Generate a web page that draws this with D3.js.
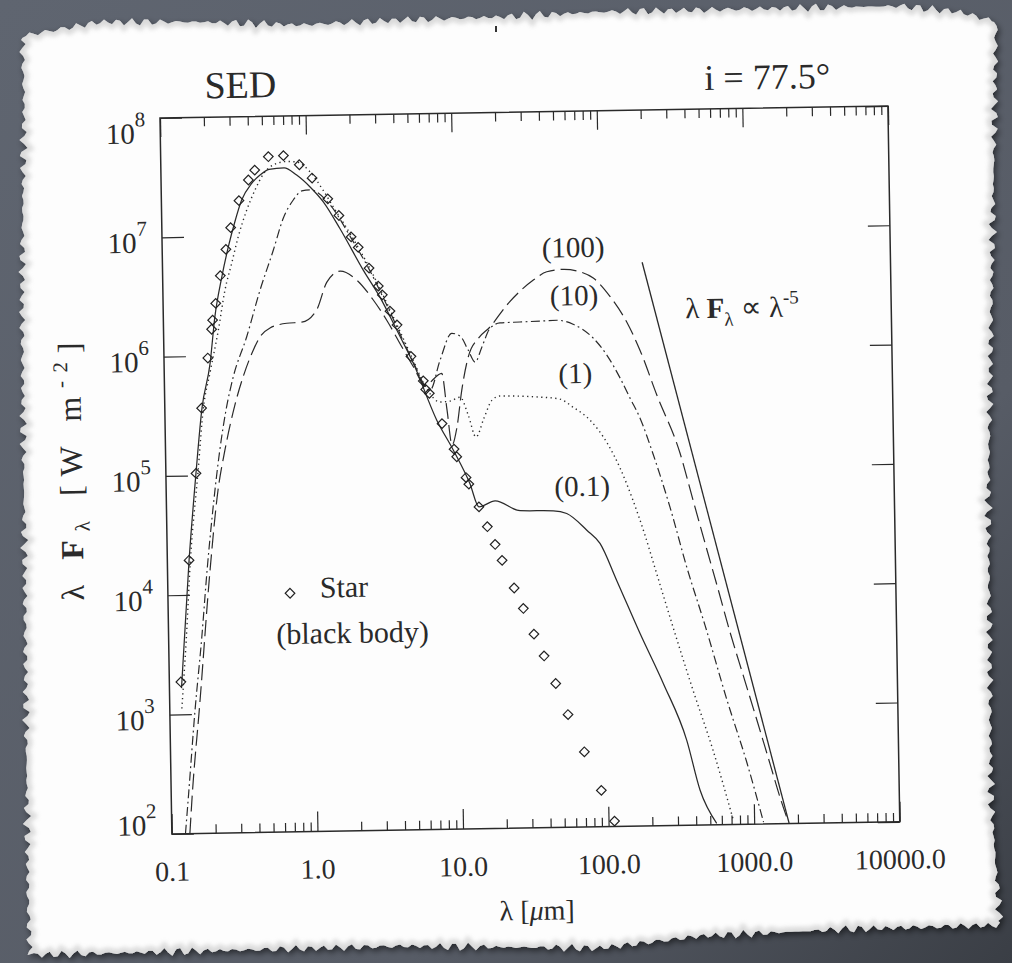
<!DOCTYPE html>
<html><head><meta charset="utf-8">
<script src="https://cdn.jsdelivr.net/npm/d3@7"></script>
<style>body{margin:0;background:#5a5f69;} svg{display:block}</style>
</head><body>
<svg id="chart" width="1012" height="963"></svg>
<script>
// ---------------- data ----------------
const starLam  = [0.120,0.141,0.161,0.179,0.200,0.214,0.218,0.230,0.249,0.274,0.297,0.341,0.398,0.441,0.549,0.697,0.894,1.09,1.39,1.65,1.99,2.22,2.62,3.02,3.21,3.61,4.02,4.97,6.0,6.22,6.58,7.98,9.59,9.98,11.5,12.0,14.0,15.9,17.9,19.9,23.9,27.5,32.3,37.7,45.0,54.2,69.5,90.0,110];
const starFlux = [1.87e3,1.95e4,1.04e5,3.66e5,9.6e5,1.67e6,1.99e6,2.75e6,4.68e6,7.77e6,1.18e7,1.98e7,2.94e7,3.55e7,4.58e7,4.65e7,3.88e7,2.99e7,1.99e7,1.44e7,9.5e6,7.74e6,5.17e6,3.64e6,3.07e6,2.24e6,1.71e6,9.27e5,5.77e5,4.89e5,4.52e5,2.51e5,1.53e5,1.32e5,8.81e4,7.75e4,4.98e4,3.39e4,2.40e4,1.76e4,1.03e4,6.92e3,4.2e3,2.75e3,1.61e3,881,427,202,111];

// tau = 0.1 (solid)
const tau01Lam  = [0.121,0.141,0.161,0.180,0.207,0.226,0.255,0.285,0.318,0.356,0.419,0.479,0.553,0.702,0.855,1.05,1.29,1.67,2.39,3.09,4.0,5.15,7.35,9.48,12.2,14.0,18.1,26.8,45.4,56.0,76.6,94.0,121,173,247,352,429,553];
const tau01Flux = [1.66e3,1.95e4,1.05e5,3.66e5,8.65e5,2.12e6,4.58e6,8.17e6,1.32e7,2.0e7,2.75e7,3.22e7,3.59e7,3.68e7,3.18e7,2.53e7,1.89e7,1.12e7,4.98e6,2.94e6,1.55e6,8.11e5,2.69e5,1.5e5,7.85e4,4.98e4,5.56e4,4.57e4,4.51e4,4.26e4,3.07e4,2.37e4,1.16e4,4.11e3,1.55e3,516,196,103];

// tau = 1 (dotted)
const tau1Lam  = [0.121,0.132,0.144,0.166,0.184,0.206,0.238,0.267,0.299,0.334,0.385,0.441,0.505,0.609,0.733,0.863,1.06,1.29,1.51,1.99,2.62,3.61,4.97,6.45,7.78,9.12,10.7,12.1,13.6,15.5,17.7,20.1,27.6,37.8,51.9,63.6,83.0,108,132,160,192,223,292,394,532,720];
const tau1Flux = [1.12e3,4.18e3,1.95e4,1.05e5,3.66e5,7.18e5,1.64e6,3.54e6,5.92e6,9.87e6,1.65e7,2.42e7,3.28e7,3.96e7,4.15e7,4.09e7,3.36e7,2.37e7,1.71e7,9.8e6,5.3e6,2.3e6,9.5e5,4.73e5,3.81e5,3.87e5,4.16e5,2.94e5,1.92e5,2.75e5,3.89e5,4.2e5,4.16e5,4.06e5,3.88e5,3.31e5,2.56e5,1.64e5,1.0e5,5.4e4,2.73e4,1.44e4,4.59e3,1.35e3,422,109];

// tau = 10 (dash-dot)
const tau10Lam  = [0.124,0.131,0.149,0.169,0.187,0.208,0.236,0.263,0.296,0.372,0.465,0.580,0.684,0.805,0.923,1.05,1.44,1.99,2.62,3.61,4.97,6.66,7.87,9.53,10.9,12.3,13.7,15.3,17.5,20.5,28.1,38.6,50.5,65.0,88.9,110,135,157,183,223,287,370,484,673,908,1160];
const tau10Flux = [100,201,1.08e3,4.4e3,1.6e4,5.09e4,1.62e5,3.49e5,6.47e5,1.43e6,3.5e6,7.55e6,1.39e7,1.97e7,2.34e7,2.38e7,1.77e7,9.27e6,5.07e6,2.2e6,9.15e5,4.81e5,8.57e5,1.43e6,1.35e6,1.03e6,8.15e5,1.09e6,1.56e6,1.72e6,1.74e6,1.76e6,1.78e6,1.64e6,1.25e6,8.94e5,5.71e5,3.87e5,2.62e5,1.3e5,4.66e4,1.43e4,4.73e3,1.1e3,325,104];

// tau = 100 (long dash)
const tau100Lam  = [0.133,0.139,0.161,0.196,0.227,0.256,0.303,0.353,0.411,0.459,0.539,0.703,0.891,1.13,1.34,1.66,2.15,2.78,3.42,4.31,5.15,6.16,8.05,8.67,9.29,10.1,11.0,12.3,14.5,17.5,22.9,35.1,43.5,56.6,73.6,90.6,117,152,186,240,341,414,495,596,718,873,1059,1268,1538,1718];
const tau100Flux = [100,201,1.23e3,1.6e4,7.47e4,1.62e5,3.84e5,6.96e5,1.1e6,1.42e6,1.68e6,1.83e6,1.86e6,2.34e6,4.0e6,4.92e6,4.12e6,2.79e6,1.88e6,1.12e6,7.59e5,5.31e5,6.62e5,3.25e5,1.66e5,2.34e5,4.77e5,9.04e5,1.29e6,1.6e6,2.42e6,3.89e6,4.55e6,4.74e6,4.5e6,3.97e6,2.79e6,1.68e6,9.73e5,4.07e5,1.32e5,5.3e4,2.3e4,9.8e3,4.09e3,1.78e3,787,362,157,103];

// lambda F_lambda ~ lambda^-5 reference line
const powerLam  = [197, 1740];
const powerFlux = [5.3e6, 100];

// axes
const xTickValues = [0.1, 1, 10, 100, 1000, 10000];
const xTickLabels = ["0.1", "1.0", "10.0", "100.0", "1000.0", "10000.0"];
const yTickValues = [1e2, 1e3, 1e4, 1e5, 1e6, 1e7, 1e8];
const yTickExponents = ["2", "3", "4", "5", "6", "7", "8"];
const curveLabels = ["(100)", "(10)", "(1)", "(0.1)"];

// ---------------- drawing ----------------
const svg = d3.select("#chart");
const FONT = "Liberation Serif, Times New Roman, serif";
const INK = "#2a2a2a";

const defs = svg.append("defs");
const bgGrad = defs.append("linearGradient").attr("id","bgg").attr("x1","0").attr("y1","0").attr("x2","1").attr("y2","1");
bgGrad.append("stop").attr("offset","0").attr("stop-color","#5f6570");
bgGrad.append("stop").attr("offset","0.7").attr("stop-color","#575c66");
bgGrad.append("stop").attr("offset","1").attr("stop-color","#3a3e45");
svg.append("rect").attr("width",1012).attr("height",963).attr("fill","url(#bgg)");

const sh = defs.append("filter").attr("id","shadow").attr("x","-5%").attr("y","-5%").attr("width","110%").attr("height","110%");
sh.append("feDropShadow").attr("dx",2).attr("dy",3).attr("stdDeviation",3).attr("flood-color","#000").attr("flood-opacity",0.55);
const bl = defs.append("filter").attr("id","blur2");
bl.append("feGaussianBlur").attr("stdDeviation",2.2);

// torn paper outline (deterministic wiggle)
const outline = [[22,36],[100,22],[200,22],[300,25],[400,20],[500,17],[600,12],[700,10],[800,8],[900,6],[960,12],[996,22],
  [993,200],[988,500],[991,800],[1000,925],[850,929],[700,936],[600,948],[400,946],[200,951],[30,955],
  [28,900],[25,600],[22,300],[24,100],[22,36]];
function wiggle(i){ return 2.2*Math.sin(i*1.73)+1.4*Math.sin(i*4.37+1.3)+0.9*Math.sin(i*11.1+0.7); }
const paperPts = [];
let idx = 0;
for (let s = 0; s < outline.length-1; s++){
  const [x0,y0] = outline[s], [x1,y1] = outline[s+1];
  const len = Math.hypot(x1-x0,y1-y0), n = Math.max(1,Math.round(len/4));
  const nx = -(y1-y0)/len, ny = (x1-x0)/len;
  for (let k = 0; k < n; k++){
    const t = k/n, w = wiggle(idx++);
    paperPts.push([x0+(x1-x0)*t + nx*w, y0+(y1-y0)*t + ny*w]);
  }
}
const paperD = d3.line()(paperPts) + "Z";
defs.append("clipPath").attr("id","paperClip").append("path").attr("d",paperD);
svg.append("path").attr("d",paperD).attr("fill","#fdfdfd").attr("filter","url(#shadow)");
svg.append("path").attr("d",paperD).attr("fill","none").attr("stroke","#bfbfbf").attr("stroke-width",9)
  .attr("opacity",0.55).attr("filter","url(#blur2)").attr("clip-path","url(#paperClip)");

// plot group (figure is slightly rotated on the page)
const W = 728, H = 716;
const g = svg.append("g").attr("transform","translate(160,118) rotate(-0.95)");
const x = d3.scaleLog().domain([0.1, 1e4]).range([0, W]);
const y = d3.scaleLog().domain([1e2, 1e8]).range([H, 0]);

defs.append("clipPath").attr("id","plotClip").append("rect").attr("x",0).attr("y",0).attr("width",W).attr("height",H);

// minor tick positions on x
const minorX = [];
[0.1,1,10,100,1000].forEach(d => { for (let k = 2; k <= 9; k++) minorX.push(d*k); });

function styleAxis(sel){
  sel.select(".domain").remove();
  sel.selectAll(".tick line").attr("stroke",INK).attr("stroke-width",1.2);
  sel.selectAll(".tick text").remove();
}
g.append("g").attr("transform",`translate(0,${H})`).call(d3.axisBottom(x).tickValues(xTickValues).tickSize(-20).tickFormat("")).call(styleAxis);
g.append("g").attr("transform",`translate(0,${H})`).call(d3.axisBottom(x).tickValues(minorX).tickSize(-9).tickFormat("")).call(styleAxis);
g.append("g").call(d3.axisTop(x).tickValues(xTickValues).tickSize(-19).tickFormat("")).call(styleAxis);
g.append("g").call(d3.axisTop(x).tickValues(minorX).tickSize(-9).tickFormat("")).call(styleAxis);
g.append("g").call(d3.axisLeft(y).tickValues(yTickValues).tickSize(-22).tickFormat("")).call(styleAxis);
g.append("g").attr("transform",`translate(${W},0)`).call(d3.axisRight(y).tickValues(yTickValues).tickSize(-22).tickFormat("")).call(styleAxis);

g.append("rect").attr("x",0).attr("y",0).attr("width",W).attr("height",H)
  .attr("fill","none").attr("stroke",INK).attr("stroke-width",1.5);

// x tick labels
g.selectAll("text.xl").data(xTickValues).join("text").attr("class","xl")
  .attr("x", d => x(d)).attr("y", H + 47).attr("text-anchor","middle")
  .attr("font-family",FONT).attr("font-size",28).attr("fill",INK)
  .text((d,i) => xTickLabels[i]);

// y tick labels 10^n
const yl = g.selectAll("text.yl").data(yTickValues).join("text").attr("class","yl")
  .attr("x", -15)
  .attr("y", (d,i) => y(d) + (i === yTickValues.length-1 ? 25 : (i === 0 ? 1 : 15)))
  .attr("text-anchor","end").attr("font-family",FONT).attr("fill",INK);
yl.append("tspan").attr("font-size",29).text("10");
yl.append("tspan").attr("font-size",21).attr("dy",-17).text((d,i) => yTickExponents[i]);

// curves
const plot = g.append("g").attr("clip-path","url(#plotClip)");
const line = d3.line().x(d => x(d[0])).y(d => y(d[1])).curve(d3.curveMonotoneX);
const zip = (a,b) => a.map((v,i) => [v, b[i]]);
const series = [
  {lam: tau01Lam,  flux: tau01Flux,  dash: null,            w: 1.25},
  {lam: tau1Lam,   flux: tau1Flux,   dash: "1.3,3.4",       w: 1.4},
  {lam: tau10Lam,  flux: tau10Flux,  dash: "9,3.5,1.8,3.5", w: 1.2},
  {lam: tau100Lam, flux: tau100Flux, dash: "16,6",          w: 1.2}
];
series.forEach(s => {
  plot.append("path").attr("d", line(zip(s.lam, s.flux)))
    .attr("fill","none").attr("stroke","#2a2a2a").attr("stroke-width",s.w)
    .attr("stroke-dasharray", s.dash);
});
plot.append("path").attr("d", d3.line().x(d => x(d[0])).y(d => y(d[1]))(zip(powerLam, powerFlux)))
  .attr("fill","none").attr("stroke","#2a2a2a").attr("stroke-width",1.3);

// star (black body) diamonds
const diamond = d3.symbol(d3.symbolSquare, 46);
plot.selectAll("path.star").data(zip(starLam, starFlux)).join("path").attr("class","star")
  .attr("d", diamond).attr("transform", d => `translate(${x(d[0])},${y(d[1])}) rotate(45)`)
  .attr("fill","none").attr("stroke","#222").attr("stroke-width",1.2);

// legend
g.append("path").attr("d", diamond).attr("transform", `translate(${x(0.69)},${y(1e4)}) rotate(45)`)
  .attr("fill","none").attr("stroke","#222").attr("stroke-width",1.2);
const txt = (px, py, size, anchor) => g.append("text").attr("x",px).attr("y",py)
  .attr("font-family",FONT).attr("font-size",size).attr("fill",INK).attr("text-anchor",anchor);
txt(152, 482, 30, "start").text("Star");
txt(184, 528, 30, "middle").text("(black body)");

// curve labels
const labelPos = [[411,146],[411,194],[411,272],[416,385]];
curveLabels.forEach((t,i) => txt(labelPos[i][0], labelPos[i][1], 29, "middle").text(t));

// power-law annotation
const ann = txt(522, 209, 29, "start");
ann.append("tspan").text("λ ");
ann.append("tspan").attr("font-weight","bold").text("F");
ann.append("tspan").attr("font-size",19).attr("dy",8).text("λ");
ann.append("tspan").attr("dy",-8).text(" ∝ λ");
ann.append("tspan").attr("font-size",19).attr("dy",-13).text("-5");

// titles
txt(45, -19, 38, "start").text("SED");
txt(545, -19, 36, "start").text("i = 77.5°");

const xt = txt(W/2, 808, 28, "middle");
xt.append("tspan").text("λ [");
xt.append("tspan").attr("font-style","italic").text("μ");
xt.append("tspan").text("m]");

const yt = g.append("text").attr("transform","translate(-84,352) rotate(-90)")
  .attr("text-anchor","middle").attr("font-family",FONT).attr("font-size",32).attr("fill",INK)
  .attr("textLength",258).attr("lengthAdjust","spacing");
yt.append("tspan").text("λ ");
yt.append("tspan").attr("font-weight","bold").text("F");
yt.append("tspan").attr("font-size",21).attr("dy",7).text("λ");
yt.append("tspan").attr("dy",-7).text(" [W m");
yt.append("tspan").attr("font-size",21).attr("dy",-13).text("-2");
yt.append("tspan").attr("dy",13).text("]");

// small ink mark at the torn top edge
svg.append("line").attr("x1",496).attr("y1",26).attr("x2",496).attr("y2",32).attr("stroke","#333").attr("stroke-width",2);
</script>
</body></html>
